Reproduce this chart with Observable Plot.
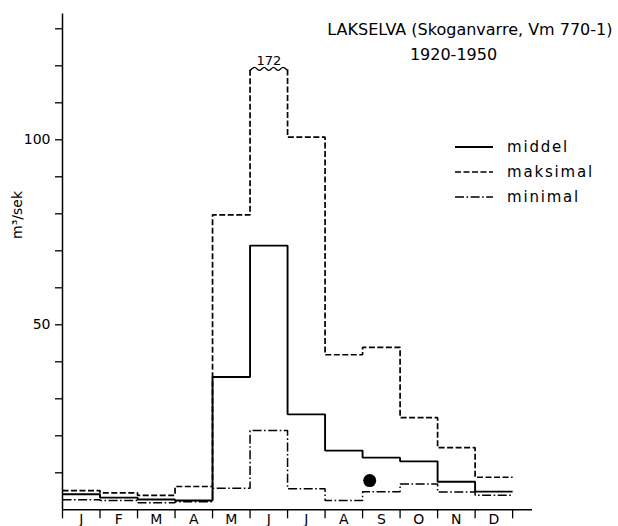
<!DOCTYPE html>
<html><head><meta charset="utf-8">
<script src="https://cdn.jsdelivr.net/npm/d3@7"></script>
<script src="https://cdn.jsdelivr.net/npm/@observablehq/plot@0.6"></script>
<style>
html,body{margin:0;padding:0;background:#fff;}
#chart svg{display:block;}
</style></head><body><div id="chart"></div>
<script>
// ---- data (m3/sek per month) ----
const months   = ["J","F","M","A","M","J","J","A","S","O","N","D"];
const middel   = [4.2, 3.3, 2.8, 2.5, 35.9, 71.4, 25.8, 16.0, 14.1, 13.1, 7.6, 4.9];
const maksimal = [5.2, 4.6, 3.9, 6.3, 79.7, 172, 100.7, 41.9, 43.9, 24.9, 16.8, 8.8];
const minimal  = [2.7, 2.5, 1.9, 2.2, 5.8, 21.4, 5.7, 2.5, 4.9, 7.0, 4.8, 3.9];
const breakValue = 119;          // off-scale June maximum is cut here
const peakLabel  = "172";
const yTicks  = [10,20,30,40,50,60,70,80,90,100,110,120,130];
const yLabels = [50, 100];
const seriesNames = ["middel","maksimal","minimal"];
const titleLines = ["LAKSELVA (Skoganvarre, Vm 770-1)", "1920-1950"];
const stain = [{x: 8.19, y: 7.9}];

const FONT = "DejaVu Sans";
const styles = {
  middel:   {strokeWidth: 1.9, dash: null},
  maksimal: {strokeWidth: 1.7, dash: "6,2.5"},
  minimal:  {strokeWidth: 1.5, dash: "9,2.5,1.6,2.5"}
};

function stairs(vals, name){
  const pts = []; let seg = 0;
  vals.forEach((v, i) => {
    const vv = Math.min(v, breakValue);
    if (v > breakValue) {
      pts.push({x: i, y: vv, seg: name + seg}); seg++;
      pts.push({x: i + 1, y: vv, seg: name + seg});
    } else {
      pts.push({x: i, y: vv, seg: name + seg});
      pts.push({x: i + 1, y: vv, seg: name + seg});
    }
  });
  return pts;
}
const brokenMonth = maksimal.findIndex(v => v > breakValue);
const wave = d3.range(0, 9).map(k => ({x: brokenMonth + k / 8, y: breakValue + (k % 2 ? 0.55 : -0.25)}));

const lineMark = (vals, name) => Plot.line(stairs(vals, name), {
  x: "x", y: "y", z: "seg", stroke: "black",
  strokeWidth: styles[name].strokeWidth,
  strokeDasharray: styles[name].dash,
  strokeLinejoin: "miter", strokeLinecap: "butt"
});

const svg = Plot.plot({
  width: 618, height: 526,
  marginLeft: 62, marginRight: 86, marginTop: 13.5, marginBottom: 16.7,
  x: {domain: [0, 12.53], axis: null, label: null},
  y: {domain: [0, 134], axis: null, label: null},
  style: {fontFamily: FONT, background: "white", color: "black"},
  marks: [
    Plot.ruleX([0], {stroke: "black", strokeWidth: 1.5}),
    Plot.ruleY([0], {stroke: "black", strokeWidth: 1.5}),
    Plot.axisX(d3.range(13), {tickSize: 9, label: null, tickFormat: () => "", strokeWidth: 1.3, stroke: "black"}),
    Plot.text(months, {x: (d, i) => i + 0.5, y: 0, dy: 14, lineAnchor: "bottom", fontSize: 14, fill: "black"}),
    Plot.axisY(yTicks, {tickSize: 7, tickPadding: 5, label: null, strokeWidth: 1.3, fontSize: 14,
      tickFormat: d => yLabels.includes(d) ? String(d) : ""}),
    lineMark(minimal, "minimal"),
    lineMark(maksimal, "maksimal"),
    lineMark(middel, "middel"),
    Plot.line(wave, {x: "x", y: "y", curve: "catmull-rom", stroke: "black", strokeWidth: 1.3}),
    Plot.text([peakLabel], {x: brokenMonth + 0.5, y: breakValue, dy: -5, lineAnchor: "bottom", fontSize: 13, fill: "black"}),
    Plot.dot(stain, {x: "x", y: "y", r: 6.5, fill: "black"}),
    Plot.text(["m³/sek"], {frameAnchor: "left", rotate: -90, dx: -45, dy: -23, fontSize: 14, fill: "black"}),
    Plot.text([titleLines[0]], {frameAnchor: "top-right", dx: 80, dy: 21, textAnchor: "end", lineAnchor: "bottom", fontSize: 16, fill: "black", letterSpacing: 0.4}),
    Plot.text([titleLines[1]], {frameAnchor: "top-right", dx: -79, dy: 46, textAnchor: "middle", lineAnchor: "bottom", fontSize: 16, fill: "black"})
  ]
});

// legend
const lg = d3.select(svg).append("g").attr("font-family", FONT).attr("font-size", 15)
  .attr("text-anchor", "start");
seriesNames.forEach((name, i) => {
  const y = 147 + i * 25;
  lg.append("line").attr("x1", 455).attr("x2", 493).attr("y1", y).attr("y2", y)
    .attr("stroke", "black").attr("stroke-width", styles[name].strokeWidth)
    .attr("stroke-dasharray", styles[name].dash);
  lg.append("text").attr("x", 507).attr("y", y).attr("dy", "0.32em")
    .attr("letter-spacing", 1.8).attr("fill", "black").text(name);
});

document.getElementById("chart").appendChild(svg);
</script></body></html>
